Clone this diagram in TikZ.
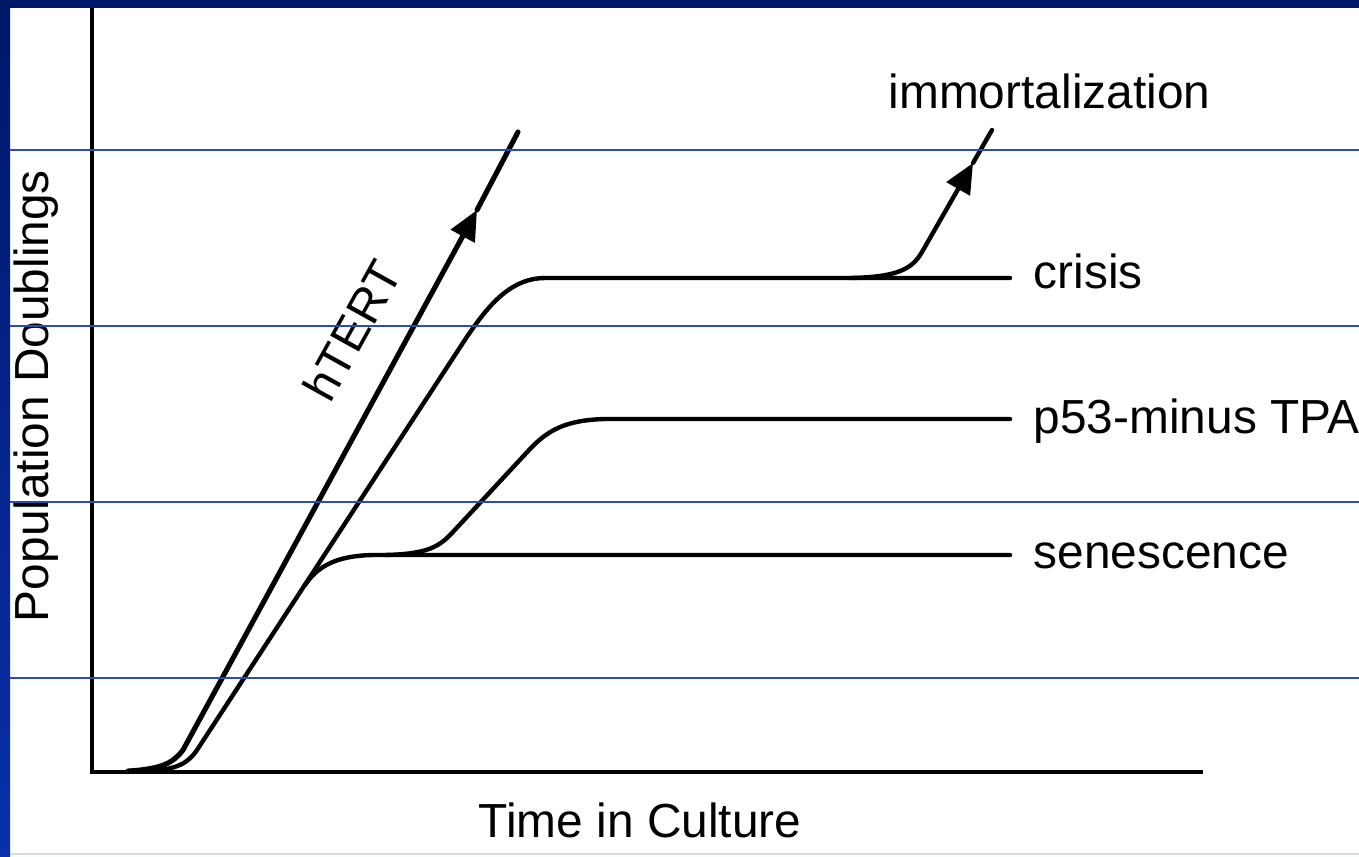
\documentclass[tikz,border=0pt]{standalone}
\usepackage{fontspec}
\setmainfont{Liberation Sans}
\usepackage{xcolor}
\usetikzlibrary{arrows.meta}
\definecolor{slidenavy}{RGB}{0,24,104}
\definecolor{slideblue}{RGB}{10,48,170}
\definecolor{gridblue}{RGB}{45,75,175}
\tikzstyle{axisline} = [line width=1.4pt]
\tikzstyle{curve} = [line width=1.25pt, line join=round, line cap=round]
\tikzstyle{arrow} = [curve, -{Triangle[length=8.5pt,width=7.5pt]}]
\tikzstyle{curvetext} = [font=\fontsize{13.6}{16}\selectfont, inner sep=0pt]
\tikzstyle{slideline} = [gridblue, line width=0.35pt]

\begin{document}
\begin{tikzpicture}[x=0.01cm, y=-0.01cm]
\useasboundingbox (0,0) rectangle (1359,856);
\fill[white] (0,0) rectangle (1359,856);
\shade[top color=slidenavy, bottom color=slideblue] (0,0) rectangle (10,856);
\fill[slidenavy] (0,0) rectangle (1359,8);

% axes
\coordinate (origin) at (92,772);
\draw [axisline] (92,8) -- (origin) -- (1203,772);

% hTERT
\draw [arrow, line width=1.45pt] (128,771) .. controls (162,769) and (173,763) .. (183,750) -- (477,210);
\draw [curve, line width=1.45pt] (477,210) -- (518,132);

% crisis
\draw [curve] (150,771) .. controls (178,769) and (188,763) .. (197,750) -- (455,355)
  .. controls (481,315) and (505,278) .. (545,278) -- (1010,278);

% senescence
\draw [curve] (305,585) .. controls (318,566) and (336,556) .. (372,555) -- (1010,555);

% p53-minus TPA
\draw [curve] (385,555) .. controls (425,554) and (438,548) .. (452,533) -- (530,449)
  .. controls (548,430) and (566,420) .. (605,419) -- (1010,419);

% immortalization
\draw [arrow] (850,278) .. controls (898,277) and (912,269) .. (922,252) -- (973,163);
\draw [curve] (973,163) -- (992,130);

\node (imm) [curvetext, anchor=base west] at (888,108) {immortalization};
\node (crisis) [curvetext, anchor=base west] at (1033,288) {crisis};
\node (tpa) [curvetext, anchor=base west] at (1033,433) {p53-minus TPA};
\node (sen) [curvetext, anchor=base west] at (1033,568) {senescence};
\node (hTERT) [curvetext, rotate=61] at (352,330) {hTERT};
\node (xlabel) [curvetext, anchor=base] at (640,837) {Time in Culture};
\node (ylabel) [curvetext, rotate=90, anchor=base] at (48,396) {Population Doublings};

% slide lines
\foreach \y in {150,326,502,678}
  \draw [slideline] (10,\y) -- (1359,\y);
\draw [slideline, opacity=0.2] (10,854) -- (1359,854);

\end{tikzpicture}
\end{document}
